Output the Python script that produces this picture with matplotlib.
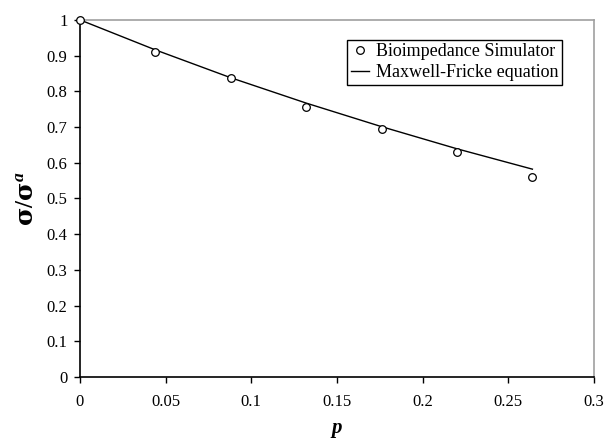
#!/usr/bin/env python3

import matplotlib
matplotlib.use('Agg')
import matplotlib.pyplot as plt
from matplotlib.ticker import FormatStrFormatter

# volume fraction p
p = [0.0, 0.044, 0.088, 0.132, 0.176, 0.22, 0.264]
# simulator results (sigma / sigma_a)
sim = [1.0, 0.911, 0.836, 0.756, 0.695, 0.631, 0.561]
# Maxwell-Fricke curve
mf = [1.0, 0.916, 0.838, 0.767, 0.701, 0.639, 0.582]

xticks = [0, 0.05, 0.1, 0.15, 0.2, 0.25, 0.3]
yticks = [0, 0.1, 0.2, 0.3, 0.4, 0.5, 0.6, 0.7, 0.8, 0.9, 1.0]

plt.rcParams['font.family'] = ['Liberation Serif', 'DejaVu Serif']
plt.rcParams['mathtext.fontset'] = 'custom'
plt.rcParams['mathtext.it'] = 'Liberation Serif:italic:bold'
plt.rcParams['mathtext.rm'] = 'Liberation Serif:bold'
plt.rcParams['mathtext.bf'] = 'DejaVu Serif:bold'

fig = plt.figure(figsize=(6.05, 4.41), dpi=100)
ax = fig.add_axes([0.132, 0.145, 0.850, 0.810])

ax.plot(p, sim, linestyle='none', marker='o', markersize=5.5,
        markerfacecolor='white', markeredgecolor='black', markeredgewidth=0.9,
        label='Bioimpedance Simulator', zorder=3, clip_on=False)
ax.plot(p, mf, color='black', linewidth=1.0, label='Maxwell-Fricke equation')

ax.set_xlim(0, 0.3)
ax.set_ylim(0, 1)
ax.set_xticks(xticks)
ax.set_yticks(yticks)
ax.xaxis.set_major_formatter(FormatStrFormatter('%g'))
ax.yaxis.set_major_formatter(FormatStrFormatter('%g'))
ax.tick_params(direction='out', length=4, width=1, labelsize=12, color='black')
ax.tick_params(axis='x', pad=8)
ax.tick_params(axis='y', pad=5)

for side in ['top', 'right']:
    ax.spines[side].set_color('#a0a0a0')
    ax.spines[side].set_linewidth(1.2)
for side in ['left', 'bottom']:
    ax.spines[side].set_color('black')
    ax.spines[side].set_linewidth(1.2)

ax.set_xlabel(r'$p$', fontsize=15, labelpad=8)
ax.set_ylabel(r'$\mathbf{\sigma}/\mathbf{\sigma}^{a}$', fontsize=18, labelpad=6)

leg = ax.legend(loc='upper right', bbox_to_anchor=(0.938, 0.944), fontsize=13,
                frameon=True, fancybox=False, framealpha=1, edgecolor='black',
                handlelength=1.0, handletextpad=0.4, borderpad=0.2,
                labelspacing=0.2, borderaxespad=0)
leg.get_frame().set_linewidth(1.0)

plt.savefig('out.png', dpi=100)
